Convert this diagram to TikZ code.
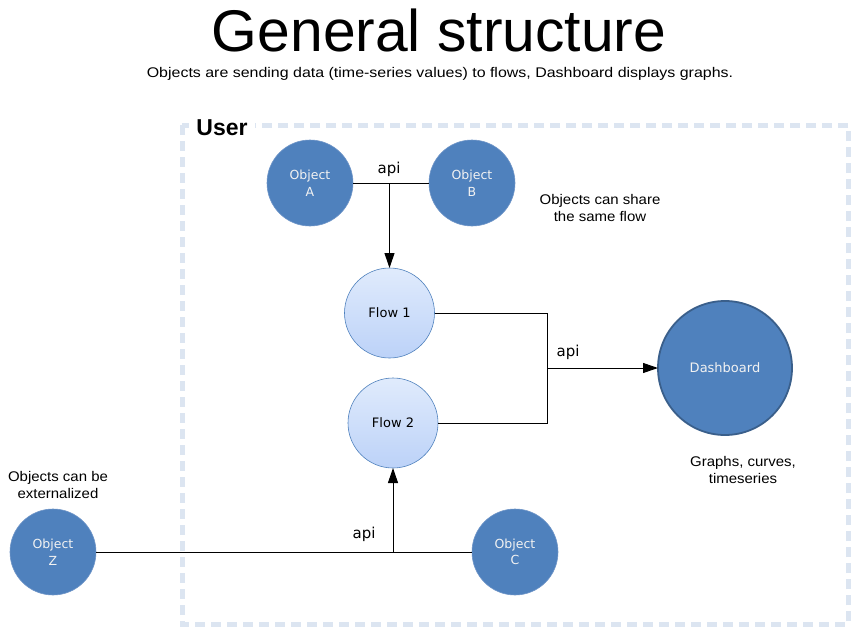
\documentclass[tikz,border=0pt]{standalone}
\usepackage{fontspec}
\setmainfont{Liberation Sans}
\newfontfamily\dejavu{DejaVu Sans}
\newfontfamily\subfont[FakeStretch=1.14]{Liberation Sans}
\newfontfamily\notefont[FakeStretch=1.07]{Liberation Sans}
\usetikzlibrary{arrows.meta,shadings}
\definecolor{objblue}{HTML}{4F81BD}
\definecolor{objedge}{HTML}{6F95C8}
\definecolor{dashedge}{HTML}{3A5F8B}
\definecolor{flowtop}{HTML}{E0EBFC}
\definecolor{flowbot}{HTML}{BCD2F8}
\definecolor{boxcol}{HTML}{DCE5F1}
\definecolor{txtwhite}{HTML}{F2F2F2}
\tikzset{
  objnode/.style={circle, fill=objblue, draw=objedge, line width=0.6pt, minimum size=86pt, inner sep=0pt, outer sep=0pt,
    text=txtwhite, font=\dejavu\fontsize{12.5}{16.5}\selectfont, align=center},
  dashnode/.style={circle, fill=objblue, draw=dashedge, line width=1.8pt, minimum size=134pt, inner sep=0pt, outer sep=0pt,
    text=txtwhite, font=\dejavu\fontsize{13}{16}\selectfont},
  flownode/.style={circle, top color=flowtop, bottom color=flowbot, draw=objblue, line width=0.6pt, minimum size=90pt, inner sep=0pt, outer sep=0pt,
    font=\dejavu\fontsize{13}{16}\selectfont},
  apilabel/.style={font=\dejavu\fontsize{15}{18}\selectfont, anchor=base, inner sep=0pt},
  note/.style={font=\notefont\fontsize{14}{16.5}\selectfont, align=center, inner sep=0pt},
  conn/.style={line width=1pt, black},
  arr/.style={conn, -{Triangle[length=15pt,width=10pt]}},
}
\begin{document}
\begin{tikzpicture}[x=1pt,y=-1pt]
\useasboundingbox (0,0) rectangle (863,643);
\fill[white] (0,0) rectangle (863,643);
% title
\node[anchor=base, inner sep=0pt, font=\fontsize{58.8}{60}\selectfont] (title) at (439,51) {General structure};
\node[anchor=base, inner sep=0pt, font=\subfont\fontsize{14}{16}\selectfont] (subtitle) at (440,77) {Objects are sending data (time-series values) to flows, Dashboard displays graphs.};
% user box
\draw[boxcol, line width=5pt, dash pattern=on 10pt off 6pt] (182,125) rectangle (848,624);
\node[fill=white, anchor=base, inner xsep=7pt, inner ysep=3pt, font=\bfseries\fontsize{23}{26}\selectfont] (user) at (222,135) {User};
% nodes
\node[objnode] (A) at (310,183) {Object\\A};
\node[objnode] (B) at (472,183) {Object\\B};
\node[flownode] (F1) at (389.5,313) {Flow 1};
\node[flownode] (F2) at (393,423) {Flow 2};
\node[dashnode] (D) at (725,368) {Dashboard};
\node[objnode] (Z) at (53,552) {Object\\Z};
\node[objnode] (C) at (515,552) {Object\\C};
% notes
\node[note] (n1) at (600,208) {Objects can share\\the same flow};
\node[note] (n2) at (743,470) {Graphs, curves,\\timeseries};
\node[note] (n3) at (58,485) {Objects can be\\externalized};
% connectors
\coordinate (j1) at (389.5,183);
\coordinate (m) at (547,368);
\coordinate (j2) at (393,552);
\draw[conn] (A.east) -- (B.west);
\draw[arr] (j1) -- (F1.north);
\draw[conn] (F1.east) -| (m);
\draw[conn] (F2.east) -| (m);
\draw[arr] (m) -- (D.west);
\draw[conn] (Z.east) -- (C.west);
\draw[arr] (j2) -- (F2.south);
% api labels
\node[apilabel] (api1) at (389,173) {api};
\node[apilabel] (api2) at (568,356) {api};
\node[apilabel] (api3) at (364,538) {api};
\end{tikzpicture}
\end{document}
